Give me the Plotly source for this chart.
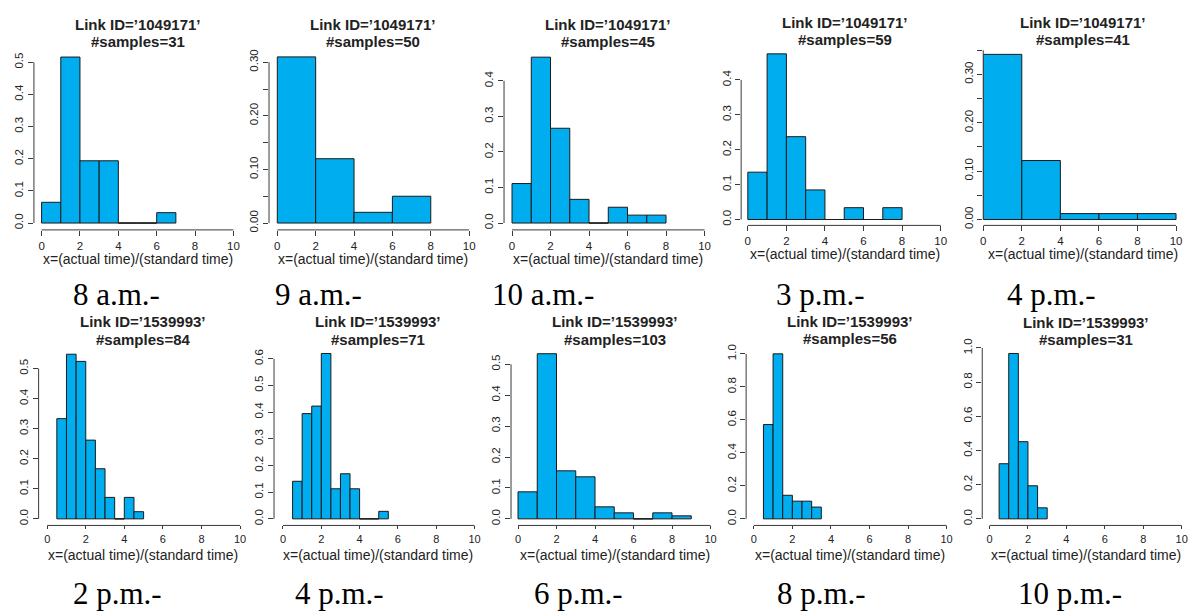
import plotly.graph_objects as go

W, H = 1195, 615

# ---------------- data ----------------
link_ids = ["1049171"] * 5 + ["1539993"] * 5
n_samples = [31, 50, 45, 59, 41, 84, 71, 103, 56, 31]
captions = ["8 a.m.-", "9 a.m.-", "10 a.m.-", "3 p.m.-", "4 p.m.-",
            "2 p.m.-", "4 p.m.-", "6 p.m.-", "8 p.m.-", "10 p.m.-"]

edges_1 = [0, 1, 2, 3, 4, 5, 6, 7]
counts_1 = [2, 16, 6, 6, 0, 0, 1]
edges_2 = [0, 2, 4, 6, 8]
counts_2 = [31, 12, 2, 5]
edges_3 = [0, 1, 2, 3, 4, 5, 6, 7, 8]
counts_3 = [5, 21, 12, 3, 0, 2, 1, 1]
edges_4 = [0, 1, 2, 3, 4, 5, 6, 7, 8]
counts_4 = [8, 28, 14, 5, 0, 2, 0, 2]
edges_5 = [0, 2, 4, 6, 8, 10]
counts_5 = [28, 10, 1, 1, 1]
edges_6 = [0.5, 1, 1.5, 2, 2.5, 3, 3.5, 4, 4.5, 5]
counts_6 = [14, 23, 22, 11, 7, 3, 0, 3, 1]
edges_7 = [0.5, 1, 1.5, 2, 2.5, 3, 3.5, 4, 4.5, 5, 5.5]
counts_7 = [5, 14, 15, 22, 4, 6, 4, 0, 0, 1]
edges_8 = [0, 1, 2, 3, 4, 5, 6, 7, 8, 9]
counts_8 = [9, 55, 16, 14, 4, 2, 0, 2, 1]
edges_9 = [0.5, 1, 1.5, 2, 2.5, 3, 3.5]
counts_9 = [16, 28, 4, 3, 3, 2]
edges_10 = [0.5, 1, 1.5, 2, 2.5, 3]
counts_10 = [5, 15, 7, 3, 1]

x_ticks = [0, 2, 4, 6, 8, 10]
x_label = "x=(actual time)/(standard time)"

yt_tenths5 = [0.0, 0.1, 0.2, 0.3, 0.4, 0.5]
yt_tenths4 = [0.0, 0.1, 0.2, 0.3, 0.4]
yt_tenths6 = [0.0, 0.1, 0.2, 0.3, 0.4, 0.5, 0.6]
yt_fifth = [0.0, 0.05, 0.10, 0.15, 0.20, 0.25, 0.30]
yt_fifth_b = [0.0, 0.05, 0.10, 0.15, 0.20, 0.25, 0.30, 0.35]
yt_unit = [0.0, 0.2, 0.4, 0.6, 0.8, 1.0]

lab_tenths5 = ["0.0", "0.1", "0.2", "0.3", "0.4", "0.5"]
lab_tenths4 = ["0.0", "0.1", "0.2", "0.3", "0.4"]
lab_tenths6 = ["0.0", "0.1", "0.2", "0.3", "0.4", "0.5", "0.6"]
lab_fifth = ["0.00", "", "0.10", "", "0.20", "", "0.30"]
lab_fifth_b = ["0.00", "", "0.10", "", "0.20", "", "0.30", ""]
lab_unit = ["0.0", "0.2", "0.4", "0.6", "0.8", "1.0"]

edges = [edges_1, edges_2, edges_3, edges_4, edges_5,
         edges_6, edges_7, edges_8, edges_9, edges_10]
counts = [counts_1, counts_2, counts_3, counts_4, counts_5,
          counts_6, counts_7, counts_8, counts_9, counts_10]
yticks = [yt_tenths5, yt_fifth, yt_tenths4, yt_tenths4, yt_fifth_b,
          yt_tenths5, yt_tenths6, yt_tenths5, yt_unit, yt_unit]
ylabels = [lab_tenths5, lab_fifth, lab_tenths4, lab_tenths4, lab_fifth_b,
           lab_tenths5, lab_tenths6, lab_tenths5, lab_unit, lab_unit]

# ---------------- geometry (pixels) ----------------
ax_left = [31, 266.7, 502.3, 740, 982.7, 35.7, 271.7, 509.3, 745, 981.7]
px_x0 = [38.7, 275, 510.3, 746.7, 982.7, 44.3, 280.7, 516.3, 752.7, 989]
px_x10 = [231, 467.3, 703.3, 940, 1176, 237.6, 472.7, 709.3, 946, 1181.7]
ax_bottom = [225.3, 225.3, 225.3, 220.7, 220.7, 526.7, 526.7, 526.7, 526.7, 526.7]
py_y0 = [218.3, 218.3, 218.3, 214.7, 214.7, 520, 520, 520, 520, 520]
ref_val = [0.5, 0.30, 0.4, 0.4, 0.30, 0.5, 0.6, 0.5, 1.0, 1.0]
py_ref = [54.3, 54.3, 73.3, 72.3, 66.7, 366.7, 356.7, 362.3, 351.7, 345.7]
title_y1 = [16, 16, 15.5, 13.3, 13.3, 318.3, 318.3, 318.3, 318.3, 320]
title_y2 = [33, 33, 33, 30.7, 31, 336.7, 336.7, 336.7, 336, 336.7]
xlab_y = [255, 255, 255, 250, 250, 556.5, 556.5, 556.5, 556.5, 556.5]
tick_len = [5, 5, 5, 5, 5, 3, 3, 3, 3, 3]
tick_fs = [11.5, 11.5, 11.5, 11.5, 11.5, 11, 11, 11, 11, 11]
cap_x = [114, 316, 541, 820, 1051, 115, 337, 577, 821, 1070]
cap_y = [291, 291, 291, 291, 291, 596, 596, 596, 596, 596]

BAR = "#00AEEF"
EDGE = "#1a1a1a"
AX = "#3a3a3a"
TXT = "#222222"
SANS = "Liberation Sans, Arial, sans-serif"
SERIF = "Liberation Serif, Times New Roman, serif"

fig = go.Figure()
layout = dict(width=W, height=H, margin=dict(l=0, r=0, t=0, b=0),
              paper_bgcolor="white", plot_bgcolor="white", showlegend=False)
shapes, annotations = [], []

for i in range(10):
    s = "" if i == 0 else str(i + 1)
    e, c, n = edges[i], counts[i], n_samples[i]
    widths = [e[k + 1] - e[k] for k in range(len(c))]
    centers = [(e[k] + e[k + 1]) / 2 for k in range(len(c))]
    dens = [c[k] / (n * widths[k]) for k in range(len(c))]
    ymax = max(dens)

    fig.add_trace(go.Bar(x=centers, y=dens, width=widths, xaxis="x" + s, yaxis="y" + s,
                         marker=dict(color=BAR, line=dict(color=EDGE, width=1)),
                         hoverinfo="skip"))
    zx, zy = [], []
    for k in range(len(c)):
        if c[k] == 0:
            zx += [e[k], e[k + 1], None]
            zy += [0, 0, None]
    if zx:
        fig.add_trace(go.Scatter(x=zx, y=zy, mode="lines", xaxis="x" + s, yaxis="y" + s,
                                 line=dict(color=EDGE, width=1), hoverinfo="skip"))

    ux = (px_x10[i] - px_x0[i]) / 10.0
    left_px = ax_left[i]
    right_px = px_x10[i] + 0.4 * ux
    xr = [(left_px - px_x0[i]) / ux, 10.4]
    uy = (py_y0[i] - py_ref[i]) / ref_val[i]
    ytop = 1.04 * ymax
    bottom_px = ax_bottom[i]
    top_px = py_y0[i] - ytop * uy
    yr = [-(bottom_px - py_y0[i]) / uy, ytop]

    xd = [left_px / W, right_px / W]
    yd = [1 - bottom_px / H, 1 - top_px / H]

    layout["xaxis" + s] = dict(domain=xd, range=xr, anchor="y" + s, showgrid=False,
                               zeroline=False, showline=False, ticks="outside",
                               ticklen=tick_len[i], tickwidth=1, tickcolor=AX,
                               tickvals=x_ticks, ticktext=[str(v) for v in x_ticks],
                               tickfont=dict(family=SANS, size=tick_fs[i], color=TXT),
                               fixedrange=True)
    layout["yaxis" + s] = dict(domain=yd, range=yr, anchor="x" + s, showgrid=False,
                               zeroline=False, showline=False, ticks="outside", ticklen=5,
                               tickwidth=1, tickcolor=AX, tickvals=yticks[i],
                               ticktext=ylabels[i], tickangle=-90,
                               tickfont=dict(family=SANS, size=11.5, color=TXT),
                               fixedrange=True)

    shapes.append(dict(type="line", xref="x" + s, yref="y" + s + " domain", x0=0, x1=10,
                       y0=0, y1=0, line=dict(color=AX, width=1)))
    shapes.append(dict(type="line", xref="x" + s + " domain", yref="y" + s, x0=0, x1=0,
                       y0=yticks[i][0], y1=yticks[i][-1], line=dict(color=AX, width=1)))

    cx = (xd[0] + xd[1]) / 2
    annotations.append(dict(text="<b>Link ID=\u2019%s\u2019</b>" % link_ids[i], xref="paper",
                            yref="paper", x=cx, y=1 - title_y1[i] / H, xanchor="center",
                            yanchor="middle", showarrow=False,
                            font=dict(family=SANS, size=15, color=TXT)))
    annotations.append(dict(text="<b>#samples=%d</b>" % n, xref="paper", yref="paper",
                            x=cx, y=1 - title_y2[i] / H, xanchor="center", yanchor="middle",
                            showarrow=False, font=dict(family=SANS, size=15, color=TXT)))
    annotations.append(dict(text=x_label, xref="paper", yref="paper", x=cx,
                            y=1 - xlab_y[i] / H, xanchor="center", yanchor="middle",
                            showarrow=False, font=dict(family=SANS, size=14, color=TXT)))
    annotations.append(dict(text=captions[i], xref="paper", yref="paper", x=cap_x[i] / W,
                            y=1 - cap_y[i] / H, xanchor="center", yanchor="middle",
                            showarrow=False, font=dict(family=SERIF, size=31, color="#000")))

layout["shapes"] = shapes
layout["annotations"] = annotations
fig.update_layout(**layout)
fig.write_html("out.html")
